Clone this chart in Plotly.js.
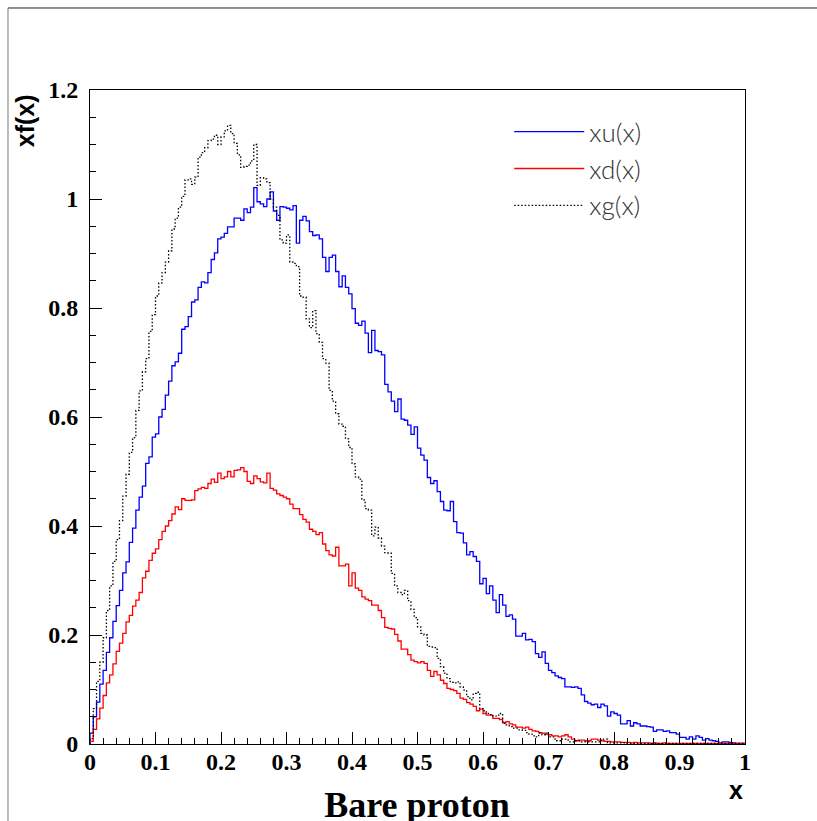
<!DOCTYPE html>
<html>
<head>
<meta charset="utf-8">
<script src="https://cdn.plot.ly/plotly-3.0.1.min.js"></script>
<style>html,body{margin:0;padding:0;background:#fff;}#chart{width:817px;height:821px;}</style>
</head>
<body>
<div id="chart"></div>
<script>
// Histogram definition: 200 bins on [0, 1]
const nBins = 200;
const xMin = 0;
const xMax = 1;

const seriesNames = ["xu(x)", "xd(x)", "xg(x)"];

const xu = [
0.02,0.05,0.077,0.11,0.135,0.168,0.195,0.225,0.254,0.282,
0.314,0.334,0.37,0.396,0.429,0.453,0.473,0.515,0.527,0.563,
0.569,0.60,0.614,0.64,0.666,0.694,0.701,0.717,0.761,0.766,
0.784,0.811,0.815,0.838,0.848,0.846,0.865,0.889,0.901,0.927,
0.93,0.937,0.949,0.949,0.965,0.965,0.961,0.982,0.975,0.985,
1.021,0.995,0.991,0.986,1.0,1.013,0.978,0.961,0.986,0.985,
0.983,0.98,0.988,0.919,0.961,0.968,0.96,0.94,0.933,0.934,
0.927,0.893,0.867,0.893,0.897,0.867,0.839,0.859,0.838,0.826,
0.799,0.772,0.768,0.776,0.754,0.718,0.759,0.722,0.72,0.714,
0.66,0.646,0.629,0.61,0.633,0.596,0.594,0.585,0.568,0.582,
0.543,0.53,0.521,0.489,0.478,0.483,0.463,0.445,0.429,0.428,
0.445,0.408,0.388,0.387,0.369,0.347,0.353,0.344,0.335,0.294,
0.304,0.276,0.29,0.264,0.241,0.274,0.255,0.234,0.237,0.229,
0.198,0.198,0.203,0.191,0.192,0.188,0.166,0.159,0.169,0.148,
0.135,0.131,0.125,0.122,0.12,0.105,0.105,0.104,0.105,0.102,
0.09,0.078,0.075,0.072,0.073,0.067,0.073,0.07,0.051,0.059,
0.056,0.053,0.037,0.037,0.043,0.033,0.039,0.037,0.033,0.033,
0.032,0.031,0.023,0.026,0.026,0.023,0.024,0.021,0.021,0.018,
0.012,0.012,0.009,0.013,0.009,0.015,0.012,0.007,0.01,0.007,
0.006,0.005,0.002,0.004,0.004,0.003,0.002,0.001,0.001,0.001
];

const xd = [
0.005,0.027,0.046,0.066,0.089,0.112,0.127,0.147,0.17,0.185,
0.203,0.224,0.236,0.253,0.264,0.278,0.305,0.317,0.337,0.35,
0.358,0.375,0.39,0.40,0.41,0.422,0.435,0.43,0.45,0.447,
0.447,0.448,0.465,0.468,0.471,0.469,0.478,0.486,0.48,0.497,
0.487,0.49,0.5,0.49,0.502,0.503,0.507,0.5,0.482,0.478,
0.492,0.487,0.481,0.479,0.497,0.469,0.466,0.459,0.456,0.453,
0.45,0.44,0.432,0.432,0.421,0.412,0.407,0.394,0.39,0.384,
0.388,0.367,0.355,0.347,0.345,0.361,0.327,0.327,0.33,0.29,
0.314,0.286,0.282,0.27,0.266,0.263,0.255,0.255,0.245,0.232,
0.214,0.212,0.211,0.201,0.189,0.174,0.174,0.164,0.154,0.151,
0.149,0.151,0.148,0.135,0.124,0.133,0.127,0.117,0.111,0.102,
0.1,0.098,0.093,0.084,0.082,0.076,0.073,0.069,0.061,0.064,
0.056,0.053,0.053,0.047,0.047,0.045,0.039,0.041,0.037,0.035,
0.031,0.031,0.029,0.031,0.027,0.024,0.023,0.021,0.02,0.018,
0.017,0.015,0.015,0.013,0.015,0.017,0.013,0.009,0.006,0.007,
0.007,0.006,0.006,0.009,0.009,0.007,0.006,0.005,0.005,0.004,
0.004,0.004,0.003,0.003,0.003,0.002,0.003,0.002,0.002,0.002,
0.002,0.001,0.002,0.001,0.001,0.002,0.001,0.001,0.001,0.001,
0.001,0.001,0.001,0.001,0.001,0.001,0.001,0.001,0.001,0.001,
0.001,0.001,0.001,0.001,0.001,0.001,0.001,0.001,0.001,0.001
];

const xg = [
0.01,0.065,0.115,0.15,0.195,0.245,0.29,0.335,0.375,0.41,
0.455,0.495,0.535,0.562,0.612,0.648,0.683,0.707,0.757,0.788,
0.822,0.846,0.865,0.884,0.905,0.945,0.965,0.985,1.005,1.035,
1.037,1.027,1.04,1.077,1.085,1.094,1.107,1.11,1.117,1.1,
1.114,1.125,1.135,1.12,1.102,1.081,1.058,1.06,1.062,1.07,
1.10,1.025,1.039,1.037,1.03,1.0,0.985,0.97,0.925,0.919,
0.934,0.884,0.882,0.876,0.822,0.82,0.78,0.764,0.795,0.753,
0.737,0.707,0.699,0.649,0.629,0.606,0.587,0.583,0.56,0.544,
0.514,0.49,0.486,0.448,0.432,0.429,0.382,0.398,0.378,0.363,
0.351,0.35,0.313,0.29,0.278,0.274,0.282,0.263,0.247,0.232,
0.215,0.203,0.2,0.179,0.178,0.177,0.157,0.142,0.13,0.12,
0.113,0.112,0.114,0.105,0.099,0.087,0.081,0.093,0.095,0.065,
0.061,0.056,0.054,0.051,0.053,0.056,0.038,0.035,0.032,0.029,
0.029,0.026,0.025,0.021,0.018,0.015,0.013,0.02,0.017,0.02,
0.013,0.013,0.006,0.006,0.009,0.009,0.004,0.004,0.006,0.006,
0.004,0.004,0.004,0.004,0.004,0.004,0.009,0.009,0.002,0.002,
0.002,0.002,0.002,0.002,0.001,0.001,0.001,0.001,0.001,0.001,
0.001,0.001,0.001,0.001,0.001,0.001,0.001,0.001,0.001,0.001,
0.001,0.001,0.001,0.001,0.001,0.001,0.001,0.001,0.001,0.001,
0.001,0.001,0.001,0.001,0.001,0.001,0.001,0.001,0.001,0.001
];

const xTickVals = [0,0.1,0.2,0.3,0.4,0.5,0.6,0.7,0.8,0.9,1];
const xTickText = ["0","0.1","0.2","0.3","0.4","0.5","0.6","0.7","0.8","0.9","1"];
const yTickVals = [0,0.2,0.4,0.6,0.8,1,1.2];
const yTickText = ["0","0.2","0.4","0.6","0.8","1","1.2"];

// Build step outline (ROOT-like histogram) from bin contents
function stepOutline(vals) {
  const w = (xMax - xMin) / nBins;
  const xs = [xMin], ys = [0];
  for (let i = 0; i < vals.length; i++) { xs.push(xMin + i * w); ys.push(vals[i]); }
  xs.push(xMax); ys.push(vals[vals.length - 1]);
  xs.push(xMax); ys.push(0);
  return {xs, ys};
}

const styles = [
  {color: "#0000ff", dash: "solid", width: 1.3},
  {color: "#ff0000", dash: "solid", width: 1.3},
  {color: "#000000", dash: "1.5px,2px", width: 1.3}
];
const all = [xu, xd, xg];
const traces = all.map((v, k) => {
  const s = stepOutline(v);
  return {
    x: s.xs, y: s.ys, type: "scatter", mode: "lines",
    name: seriesNames[k],
    line: {shape: "hv", color: styles[k].color, dash: styles[k].dash, width: styles[k].width},
    hoverinfo: "skip"
  };
});

const tickFont = {family: "Liberation Serif, Times New Roman, serif", size: 24, color: "#000", weight: "bold"};

const layout = {
  width: 817, height: 821,
  margin: {l: 90, r: 72, t: 90, b: 77},
  paper_bgcolor: "#fff", plot_bgcolor: "#fff",
  showlegend: true,
  legend: {
    x: 0.64, y: 0.972, xanchor: "left", yanchor: "top",
    bgcolor: "rgba(0,0,0,0)", borderwidth: 0,
    itemwidth: 70, tracegroupgap: 0,
    font: {family: "Lato, DejaVu Sans, sans-serif", size: 26, color: "#333", weight: 300}
  },
  title: {
    text: "Bare proton",
    x: 0.4992, xref: "paper", xanchor: "center",
    y: 0.02, yref: "container", yanchor: "middle",
    font: {family: "Liberation Serif, Times New Roman, serif", size: 36, color: "#000", weight: "bold"}
  },
  xaxis: {
    range: [0, 1], showgrid: false, zeroline: false,
    showline: true, linecolor: "#000", linewidth: 1, mirror: true,
    ticks: "inside", ticklen: 12, tickwidth: 1, tickcolor: "#000",
    tickvals: xTickVals, ticktext: xTickText, tickfont: tickFont,
    ticklabelstandoff: -4,
    minor: {ticks: "inside", ticklen: 6, dtick: 0.02, tickcolor: "#000", tickwidth: 1, showgrid: false}
  },
  yaxis: {
    range: [0, 1.2], showgrid: false, zeroline: false,
    showline: true, linecolor: "#000", linewidth: 1, mirror: true,
    ticks: "inside", ticklen: 12, tickwidth: 1, tickcolor: "#000",
    tickvals: yTickVals, ticktext: yTickText, tickfont: tickFont,
    ticklabelstandoff: 6,
    minor: {ticks: "inside", ticklen: 6, dtick: 0.05, tickcolor: "#000", tickwidth: 1, showgrid: false}
  },
  annotations: [
    {text: "xf(x)", xref: "paper", yref: "paper", x: -0.098, y: 0.997,
     xanchor: "center", yanchor: "top", textangle: -90, showarrow: false,
     font: {family: "Liberation Sans, Arial, sans-serif", size: 25, color: "#000", weight: "bold"}},
    {text: "x", xref: "paper", yref: "paper", x: 0.986, y: -0.07,
     xanchor: "center", yanchor: "middle", showarrow: false,
     font: {family: "Liberation Sans, Arial, sans-serif", size: 25, color: "#000", weight: "bold"}}
  ],
  shapes: [
    {type: "line", xref: "paper", yref: "paper", x0: -0.1252, x1: 1.12, y0: 1.1254, y1: 1.1254,
     line: {color: "#222", width: 1}},
    {type: "line", xref: "paper", yref: "paper", x0: -0.1252, x1: -0.1252, y0: 1.1254, y1: -0.13,
     line: {color: "#777", width: 1}}
  ]
};

Plotly.newPlot("chart", traces, layout, {displayModeBar: false, staticPlot: true});
</script>
</body>
</html>
